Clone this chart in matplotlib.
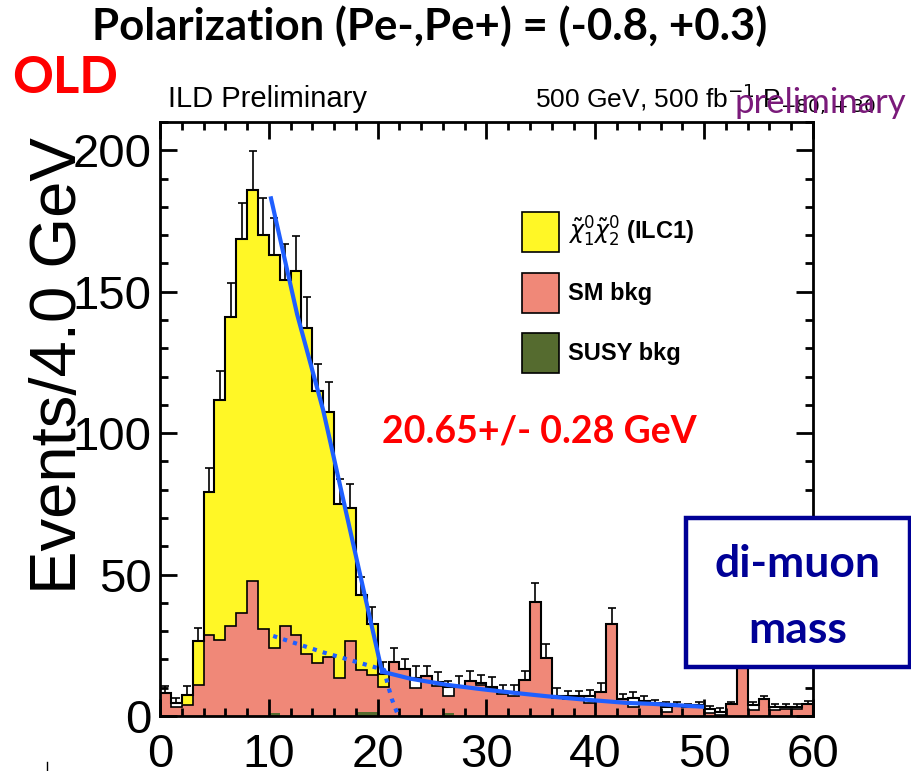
import matplotlib
matplotlib.use("Agg")
import matplotlib.pyplot as plt
from matplotlib.patches import Patch, Rectangle
from matplotlib.lines import Line2D
from matplotlib.ticker import MultipleLocator
from matplotlib import font_manager
import numpy as np

# di-muon mass, 1 GeV bins from 0 to 60
edges = np.arange(0, 61, 1)

# stack level of SUSY bkg + SM bkg (top of the salmon bars)
sm_top = [8.0, 3.3, 3.9, 11.0, 28.6, 27.0, 31.8, 36.3, 47.7, 30.9,
          24.0, 31.8, 28.6, 22.0, 18.6, 21.0, 13.3, 26.5, 16.3, 14.5,
          10.4, 19.2, 16.5, 9.8, 14.1, 10.6, 7.2, 10.1, 12.5, 11.0,
          10.0, 7.9, 7.2, 12.7, 40.4, 20.6, 6.5, 6.0, 6.9, 4.5,
          8.6, 32.5, 5.9, 3.3, 4.7, 4.2, 1.5, 3.9, 3.3, 3.3,
          1.0, 0.5, 4.2, 22.0, 2.2, 5.9, 2.2, 2.5, 2.5, 4.2]

# signal chi1-chi2 (yellow, on top of the backgrounds)
signal = [0, 0, 3.5, 15.5, 50.7, 84.7, 109.2, 132.5, 138.2, 139.1,
          139.0, 122.2, 128.6, 115.0, 96.4, 86.5, 61.6, 47.1, 26.5, 18.2,
          4.4] + [0] * 39

# SUSY bkg (dark green, bottom of the stack)
susy = [0] * 10 + [1.0] + [0] * 7 + [1.5, 1.5] + [0] * 6 + [1.0] + [0] * 33

# total histogram outline
total = [8.0, 4.5, 7.4, 26.5, 79.3, 111.7, 141.0, 168.8, 185.9, 170.0,
         163.0, 154.0, 157.2, 137.0, 115.0, 107.5, 74.9, 73.6, 42.8, 32.7,
         14.8, 19.2, 16.5, 13.3, 14.1, 12.1, 10.4, 10.4, 12.5, 11.5,
         10.4, 8.6, 8.6, 12.7, 40.4, 20.6, 7.2, 6.9, 6.9, 6.9,
         8.6, 32.5, 5.9, 6.2, 5.3, 4.7, 3.3, 3.9, 3.3, 3.9,
         2.4, 1.5, 4.2, 22.0, 3.9, 5.9, 3.3, 3.3, 3.3, 4.2]

# upper error bars
err = [2.5, 2.0, 3.2, 4.7, 8.4, 10.3, 12.0, 12.7, 13.9, 13.0,
       12.9, 12.8, 12.4, 11.2, 9.5, 10.6, 8.8, 8.4, 6.4, 5.9,
       4.4, 4.7, 3.5, 4.4, 3.6, 3.5, 2.0, 3.7, 3.5, 3.0,
       3.3, 2.4, 2.5, 3.3, 6.5, 4.7, 2.6, 2.0, 2.1, 2.2,
       2.9, 5.8, 2.0, 2.4, 1.8, 1.0, 1.8, 1.2, 1.0, 1.2,
       1.2, 1.2, 0.8, 4.5, 1.2, 1.2, 1.0, 1.0, 1.0, 1.1]

# fitted edge lines
fit_edge_x = [10.2, 12.6, 15.0, 17.8, 20.4]
fit_edge_y = [183, 142, 108, 60, 15.7]
fit_tail_x = [20.4, 23.0, 26.4, 29.5, 32.5, 35.5, 38.7, 43.0, 45.2, 49.8]
fit_tail_y = [15.7, 13.2, 11.0, 9.5, 8.2, 7.0, 5.9, 4.6, 4.3, 3.3]
fit_bkg_x = [10.4, 15.0, 20.6, 20.9, 21.3, 21.8]
fit_bkg_y = [28.3, 22.5, 16.3, 11.5, 6.0, 1.0]

yellow = "#fff726"
salmon = "#f08878"
olive = "#556b2f"
blue = "#1f5fff"
navy = "#000096"

names = {f.name for f in font_manager.fontManager.ttflist}
root_font = "Liberation Sans"
narrow = "Liberation Sans Narrow" if "Liberation Sans Narrow" in names else root_font
slide_font = "Lato"

fig = plt.figure(figsize=(9.12, 7.71), dpi=100)
ax = fig.add_axes([160 / 912, 1 - 716 / 771, 653 / 912, 594 / 771])

sm_arr = np.array(sm_top)
susy_arr = np.array(susy)
sig_top = sm_arr + np.array(signal)

ax.stairs(susy_arr, edges, fill=True, color=olive, zorder=1)
ax.stairs(sm_arr, edges, baseline=susy_arr, fill=True, color=salmon, zorder=1)
ax.stairs(sig_top, edges, baseline=sm_arr, fill=True, color=yellow, zorder=1)
ax.stairs(sm_arr, edges, color="black", lw=1.2, zorder=2)
ax.stairs(total, edges, color="black", lw=1.5, zorder=2)

centers = edges[:-1] + 0.5
ax.errorbar(centers, total, yerr=[np.zeros(60), err], fmt="none",
            ecolor="black", elinewidth=1.2, capsize=3, capthick=1.2, zorder=3)

ax.plot(fit_edge_x, fit_edge_y, color=blue, lw=3, zorder=4)
ax.plot(fit_tail_x, fit_tail_y, color=blue, lw=3, zorder=4)
ax.plot(fit_bkg_x, fit_bkg_y, color=blue, lw=3, ls=(0, (1, 1.5)), zorder=4)

ax.set_xlim(0, 60)
ax.set_ylim(0, 210)
ax.xaxis.set_major_locator(MultipleLocator(10))
ax.xaxis.set_minor_locator(MultipleLocator(2))
ax.yaxis.set_major_locator(MultipleLocator(50))
ax.yaxis.set_minor_locator(MultipleLocator(10))
ax.tick_params(which="both", direction="in", top=True, right=True, width=2)
ax.tick_params(which="major", length=12)
ax.tick_params(which="minor", length=6)
ax.tick_params(axis="y", pad=6)
ax.tick_params(axis="x", pad=12)
for sp in ax.spines.values():
    sp.set_linewidth(2)
for lab in ax.get_xticklabels() + ax.get_yticklabels():
    lab.set_family(narrow)
    lab.set_fontsize(34 if narrow == root_font else 37)

ax.set_ylabel("Events/4.0 GeV", family=root_font, fontsize=47)
ax.yaxis.set_label_coords(-0.108, 0.59)

handles = [Patch(facecolor=yellow, edgecolor="black", lw=1.2),
           Patch(facecolor=salmon, edgecolor="black", lw=1.2),
           Patch(facecolor=olive, edgecolor="black", lw=1.2)]
labels = [r"$\tilde{\chi}^{0}_{1}\tilde{\chi}^{0}_{2}$ (ILC1)", "SM bkg", "SUSY bkg"]
ax.legend(handles, labels, loc="upper left", bbox_to_anchor=(522 / 912, 1 - 212 / 771),
          bbox_transform=fig.transFigure, frameon=False, borderpad=0, borderaxespad=0,
          handlelength=1.57, handleheight=2.23, labelspacing=0.87, handletextpad=0.38,
          prop={"family": root_font, "weight": "bold", "size": 17})

def ftext(x, y, s, **kw):
    fig.text(x / 912, 1 - y / 771, s, **kw)

ftext(430, 40, "Polarization (Pe-,Pe+) = (-0.8, +0.3)", family=slide_font,
      weight="bold", fontsize=31.5, ha="center", va="baseline")
ftext(12, 93, "OLD", family=slide_font, weight="bold", fontsize=36.5, color="red",
      va="baseline")
ftext(168, 107, "ILD Preliminary", family=root_font, fontsize=21, va="baseline")
ftext(535, 107, r"500 GeV, 500 fb$^{-1}$ P$_{-80,+30}$", family=root_font,
      fontsize=19, va="baseline")
ftext(735, 113, "preliminary", family=slide_font, fontsize=25, color="#7a1a7a",
      va="baseline")
ftext(382, 443, "20.65+/- 0.28 GeV", family=slide_font, weight="bold", fontsize=27,
      color="red", va="baseline")

box = Rectangle((686 / 912, 1 - 667 / 771), 224 / 912, 149 / 771, transform=fig.transFigure,
                facecolor="white", edgecolor=navy, lw=3.2, zorder=5)
fig.add_artist(box)
ftext(798, 577, "di-muon", family=slide_font, weight="bold", fontsize=32, color=navy,
      ha="center", va="baseline", zorder=6)
ftext(798, 643, "mass", family=slide_font, weight="bold", fontsize=32, color=navy,
      ha="center", va="baseline", zorder=6)

fig.add_artist(Line2D([47 / 912, 47 / 912], [0, 9 / 771], transform=fig.transFigure,
                      color="black", lw=1))

fig.savefig("out.png", dpi=100)
